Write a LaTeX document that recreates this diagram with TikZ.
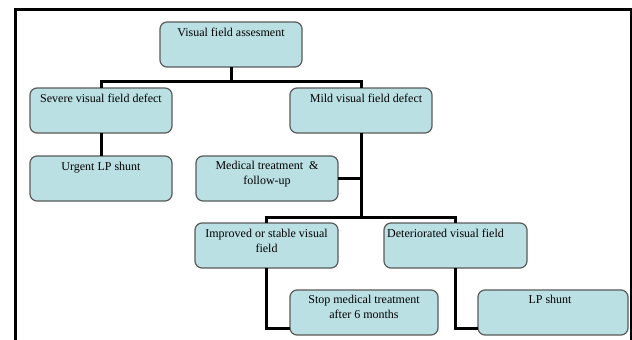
\documentclass[tikz,border=0pt]{standalone}
\usepackage{fontspec}
\setmainfont{Liberation Serif}
\definecolor{boxfill}{RGB}{187,224,228}
\definecolor{boxline}{RGB}{90,90,90}
\begin{document}
\begin{tikzpicture}[x=1pt,y=-1pt,
  box/.style={draw=boxline, line width=1.2pt, fill=boxfill, rounded corners=7pt,
    inner sep=0pt, outer sep=0pt, minimum height=45pt, minimum width=142pt},
  txt/.style={inner sep=0pt, align=center, font=\fontsize{12}{15}\selectfont},
  link/.style={line width=3pt, draw=black}]
\useasboundingbox (0,0) rectangle (632,340);
\clip (0,0) rectangle (632,340);
\fill[white] (0,0) rectangle (632,340);
% outer frame
\draw[line width=3pt] (15.5,350) -- (15.5,9.5) -- (631.5,9.5) -- (631.5,350);

% boxes
\node[box] (top) at (231,44.5) {};
\node[box] (severe) at (101,110.5) {};
\node[box] (mild) at (361,110.5) {};
\node[box] (urgent) at (101,178.5) {};
\node[box] (medical) at (267,178.5) {};
\node[box, minimum width=143pt] (improved) at (266.5,245.5) {};
\node[box, minimum width=143pt] (deter) at (455.5,245.5) {};
\node[box, minimum width=148pt] (stop) at (364,312.5) {};
\node[box, minimum width=150pt] (lp) at (553,312.5) {};

% texts
\node[txt, anchor=north] (ttop) at ([yshift=-3.5pt]top.north) {\strut Visual field assesment};
\node[txt, anchor=north] (tsevere) at ([yshift=-4pt]severe.north) {\strut Severe visual field defect};
\node[txt, anchor=north] (tmild) at ([xshift=5pt,yshift=-4pt]mild.north) {\strut Mild visual field defect};
\node[txt, anchor=north] (turgent) at ([yshift=-4pt]urgent.north) {\strut Urgent LP shunt};
\node[txt, anchor=north] (tmedical) at ([yshift=-3pt]medical.north) {\strut Medical treatment~~\&\\follow-up};
\node[txt, anchor=north] (timproved) at ([yshift=-4pt]improved.north) {\strut Improved or stable visual\\field};
\node[txt, anchor=north west] (tdeter) at ([xshift=3pt,yshift=-4pt]deter.north west) {\strut Deteriorated visual field};
\node[txt, anchor=north] (tstop) at ([yshift=-3pt]stop.north) {\strut Stop medical treatment\\after 6 months};
\node[txt, anchor=north] (tlp) at ([xshift=-3pt,yshift=-3pt]lp.north) {\strut LP shunt};

% connectors
\coordinate (c1) at (231,81);
\coordinate (c2) at (361,217);
\draw[link] (top.south) -- (c1);
\draw[link] (severe.north) |- (c1) -| (mild.north);
\draw[link] (severe.south) -- (urgent.north);
\draw[link] (mild.south) -- (c2);
\draw[link] (medical.east) -- (medical.east -| mild.south);
\draw[link] (improved.north) |- (c2) -| (deter.north);
\draw[link] (improved.south) |- ([yshift=-16pt]stop.west);
\draw[link] (deter.south) |- ([yshift=-16pt]lp.west);
\end{tikzpicture}
\end{document}
